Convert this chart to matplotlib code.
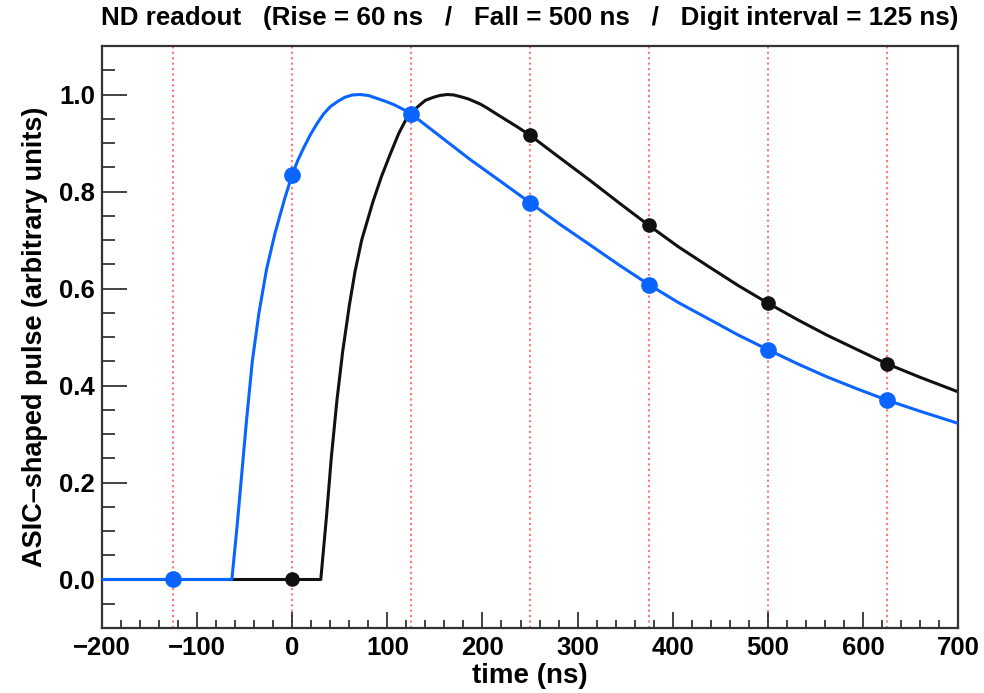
import matplotlib
matplotlib.use('Agg')
import matplotlib.pyplot as plt
from matplotlib.ticker import MultipleLocator, FormatStrFormatter

# pulse shapes (time in ns, amplitude in arbitrary units)
blue_t = [-200, -63.5, -58, -53, -48, -42, -35, -27, -18, -8, 0, 6, 12, 19, 26, 33,
          40, 48, 55, 63, 71, 80, 89, 98, 107, 116, 125, 156, 187, 219, 250, 281,
          313, 344, 375, 406, 438, 469, 500, 531, 562, 594, 625, 660, 700]
blue_v = [0.0, 0.0, 0.11, 0.22, 0.33, 0.45, 0.55, 0.64, 0.715, 0.785, 0.835, 0.865,
          0.89, 0.917, 0.94, 0.960, 0.975, 0.986, 0.994, 0.999, 1.0, 0.998, 0.992,
          0.986, 0.979, 0.970, 0.960, 0.913, 0.866, 0.821, 0.777, 0.733, 0.690,
          0.648, 0.608, 0.571, 0.537, 0.504, 0.474, 0.445, 0.418, 0.393, 0.370,
          0.347, 0.322]

black_t = [-200, 30, 36, 41, 47, 53, 60, 66, 73, 85, 94, 103, 112, 120, 128, 135,
           140, 148, 155, 163, 170, 178, 185, 191, 198, 205, 213, 222, 236, 250,
           281, 313, 344, 375, 406, 438, 469, 500, 531, 562, 594, 625, 660, 700]
black_v = [0.0, 0.0, 0.13, 0.25, 0.37, 0.47, 0.565, 0.635, 0.70, 0.78, 0.832, 0.877,
           0.920, 0.950, 0.968, 0.980, 0.988, 0.994, 0.998, 1.0, 0.999, 0.995,
           0.991, 0.986, 0.980, 0.972, 0.962, 0.951, 0.934, 0.916, 0.870, 0.823,
           0.776, 0.730, 0.686, 0.645, 0.606, 0.570, 0.536, 0.504, 0.474, 0.445,
           0.417, 0.387]

# digitised samples
blue_sample_t = [-125, 0, 125, 250, 375, 500, 625]
blue_sample_v = [0.0, 0.835, 0.960, 0.777, 0.608, 0.474, 0.370]
black_sample_t = [0, 125, 250, 375, 500, 625]
black_sample_v = [0.0, 0.960, 0.916, 0.730, 0.570, 0.445]

digit_times = [-125, 0, 125, 250, 375, 500, 625]

title = 'ND readout   (Rise = 60 ns   /   Fall = 500 ns   /   Digit interval = 125 ns)'

plt.rcParams['font.family'] = ['Liberation Sans', 'DejaVu Sans']
plt.rcParams['font.weight'] = 'bold'

blue = '#0a64ff'
black = '#111111'

fig = plt.figure(figsize=(9.84, 6.93), dpi=100)
ax = fig.add_axes([0.1037, 0.0938, 0.8699, 0.8398])

for t in digit_times:
    ax.axvline(t, color='#ff7575', lw=1.5, linestyle=(0, (1.0, 1.6)), zorder=1)

ax.plot(black_t, black_v, color=black, lw=2.2, zorder=2)
ax.plot(black_sample_t, black_sample_v, 'o', color=black, ms=9.5, zorder=3)
ax.plot(blue_t, blue_v, color=blue, lw=2.2, zorder=4)
ax.plot(blue_sample_t, blue_sample_v, 'o', color=blue, ms=11, zorder=5)

ax.set_xlim(-200, 700)
ax.set_ylim(-0.1, 1.1)
ax.xaxis.set_major_locator(MultipleLocator(100))
ax.xaxis.set_minor_locator(MultipleLocator(20))
ax.yaxis.set_major_locator(MultipleLocator(0.2))
ax.yaxis.set_minor_locator(MultipleLocator(0.05))
ax.yaxis.set_major_formatter(FormatStrFormatter('%.1f'))

ax.tick_params(axis='both', which='both', direction='in', top=False, right=False,
               labelsize=18.5, width=1.2, color='#222222')
ax.tick_params(axis='x', which='major', length=11.5, pad=6)
ax.tick_params(axis='x', which='minor', length=5.8)
ax.tick_params(axis='y', which='major', length=18, pad=5)
ax.tick_params(axis='y', which='minor', length=9)
for lab in ax.get_xticklabels() + ax.get_yticklabels():
    lab.set_fontweight('bold')

for side in ax.spines.values():
    side.set_linewidth(1.6)
    side.set_color('#333333')

ax.set_xlabel('time (ns)', fontsize=20, fontweight='bold', labelpad=2)
ax.set_ylabel('ASIC\u2013shaped pulse (arbitrary units)', fontsize=19.5,
              fontweight='bold', labelpad=8)

fig.text(0.5386, 1 - 18 / 693, title, ha='center', va='center', fontsize=18.7,
         fontweight='bold')

fig.savefig('out.png', dpi=100)
